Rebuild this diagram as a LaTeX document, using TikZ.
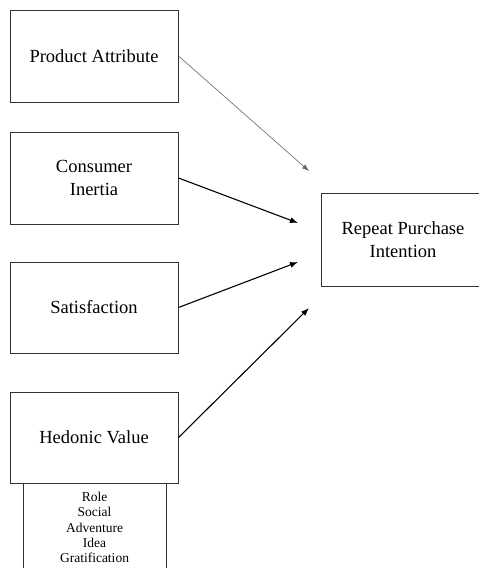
\documentclass[tikz,border=0pt]{standalone}
\usepackage{fontspec}
\setmainfont{Liberation Serif}
\usetikzlibrary{arrows.meta}
\begin{document}
\begin{tikzpicture}[x=1pt,y=-1pt,
  box/.style={draw=black!80,line width=1pt,minimum width=168pt,minimum height=92pt,inner sep=0pt,align=center,font=\fontsize{18.5}{23}\selectfont},
  arr/.style={-{Latex[length=8pt,width=6pt]},line width=1.1pt,black},
  thinarr/.style={-{Latex[length=7pt,width=5pt]},line width=0.6pt,black!60}]
\useasboundingbox (0,0) rectangle (479,568);
\node[box] (pa) at (94,56) {Product Attribute};
\node[box] (ci) at (94,178) {Consumer\\Inertia};
\node[box,minimum height=91pt] (sa) at (94,307.5) {Satisfaction};
\node[box,minimum height=91pt] (hv) at (94,437.5) {Hedonic Value};
\node[box,minimum width=164pt,minimum height=93pt] (rp) at (403,239.5) {Repeat Purchase\\Intention};
\draw[draw=black!80,line width=1pt] (23,483) -- (23,572) (166,483) -- (166,572);
\node[align=center,inner sep=0pt,font=\fontsize{13.5}{15.3}\selectfont,anchor=north] (dims) at (94.5,492) {Role\\Social\\Adventure\\Idea\\Gratification};
\coordinate (t1) at (309,171);
\coordinate (t2) at (298,223);
\coordinate (t3) at (298,262);
\coordinate (t4) at (309,308);
\draw[thinarr] (pa.east) -- (t1);
\draw[arr] (ci.east) -- (t2);
\draw[arr] (sa.east) -- (t3);
\draw[arr] (hv.east) -- (t4);
\end{tikzpicture}
\end{document}
